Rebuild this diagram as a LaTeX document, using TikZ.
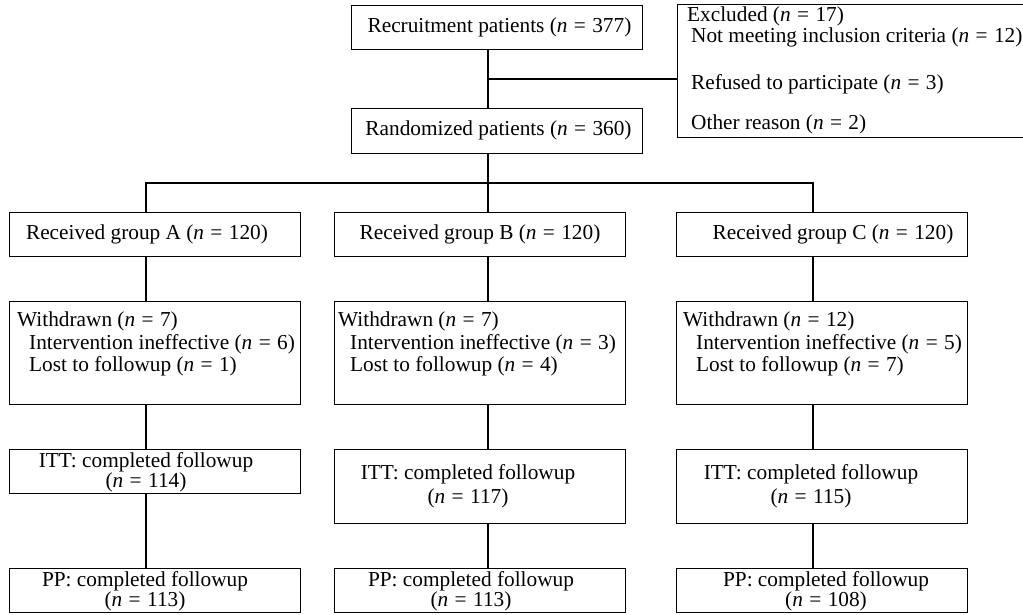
\documentclass[tikz,border=0pt]{standalone}
\usepackage{fontspec}
\setmainfont{Liberation Serif}
\newcommand{\eqn}[1]{(\textit{n}\hspace{0.3em}=\hspace{0.3em}#1)}
\begin{document}
\begin{tikzpicture}[x=1pt,y=-1pt,
  box/.style={draw, line width=1.2pt, inner sep=0pt, anchor=north west, minimum width=291pt},
  txt/.style={inner sep=0pt, font=\fontsize{21.3}{24}\selectfont},
  tight/.style={inner sep=0pt, align=center, font=\fontsize{21.3}{19}\selectfont},
  loose/.style={inner sep=0pt, align=center, font=\fontsize{21.3}{24}\selectfont},
  link/.style={line width=1.2pt}]
\useasboundingbox (0,0) rectangle (1023,615);
\clip (0,0) rectangle (1023,615);
% boxes
\node[box, minimum height=44pt] (rec) at (351,5) {};
\node[box, minimum height=45pt] (ran) at (351,108) {};
\node[box, minimum width=360pt, minimum height=133pt] (exc) at (677,4) {};
\node[box, minimum height=44pt] (ga) at (9,212) {};
\node[box, minimum height=44pt] (gb) at (334,212) {};
\node[box, minimum height=44pt] (gc) at (676,212) {};
\node[box, minimum height=103pt] (wa) at (9,301) {};
\node[box, minimum height=103pt] (wb) at (334,301) {};
\node[box, minimum height=103pt] (wc) at (676,301) {};
\node[box, minimum height=44pt] (ia) at (9,449) {};
\node[box, minimum height=74pt] (ib) at (334,449) {};
\node[box, minimum height=74pt] (ic) at (676,449) {};
\node[box, minimum height=44pt] (pa) at (9,568) {};
\node[box, minimum height=44pt] (pb) at (334,568) {};
\node[box, minimum height=44pt] (pc) at (676,568) {};
% texts
\node[txt] (trec) at (499.5,27) {Recruitment patients \eqn{377}};
\node[txt] (tran) at (498.5,130.5) {Randomized patients \eqn{360}};
\node[txt, anchor=base west] (te1) at (687,22) {Excluded \eqn{17}};
\node[txt, anchor=base west] (te2) at (691,43) {Not meeting inclusion criteria \eqn{12}};
\node[txt, anchor=base west] (te3) at (691,90) {Refused to participate \eqn{3}};
\node[txt, anchor=base west] (te4) at (691,130) {Other reason \eqn{2}};
\node[txt] (tga) at (147,234) {Received group A \eqn{120}};
\node[txt] (tgb) at (480,234) {Received group B \eqn{120}};
\node[txt] (tgc) at (833,234) {Received group C \eqn{120}};
\node[txt, anchor=base west] (twa1) at (17,326) {Withdrawn \eqn{7}};
\node[txt, anchor=base west] (twa2) at (29,349) {Intervention ineffective \eqn{6}};
\node[txt, anchor=base west] (twa3) at (29,371) {Lost to followup \eqn{1}};
\node[txt, anchor=base west] (twb1) at (338,326) {Withdrawn \eqn{7}};
\node[txt, anchor=base west] (twb2) at (350,349) {Intervention ineffective \eqn{3}};
\node[txt, anchor=base west] (twb3) at (350,371) {Lost to followup \eqn{4}};
\node[txt, anchor=base west] (twc1) at (683,326) {Withdrawn \eqn{12}};
\node[txt, anchor=base west] (twc2) at (696,349) {Intervention ineffective \eqn{5}};
\node[txt, anchor=base west] (twc3) at (696,371) {Lost to followup \eqn{7}};
\node[tight] (tia) at (146,472.5) {ITT: completed followup\\\eqn{114}};
\node[loose] (tib) at (468,486) {ITT: completed followup\\\eqn{117}};
\node[loose] (tic) at (811,486) {ITT: completed followup\\\eqn{115}};
\node[tight] (tpa) at (145,591.5) {PP: completed followup\\\eqn{113}};
\node[tight] (tpb) at (471,591.5) {PP: completed followup\\\eqn{113}};
\node[tight] (tpc) at (826,591.5) {PP: completed followup\\\eqn{108}};
% connector coordinates
\coordinate (xa) at (146,0);
\coordinate (xb) at (488,0);
\coordinate (xc) at (813,0);
\coordinate (j1) at (488,79);
\coordinate (j2) at (488,183);
% connectors
\draw[link] (rec.south -| xb) -- (ran.north -| xb);
\draw[link] (j1) -- (exc.west |- j1);
\draw[link] (ran.south -| xb) -- (j2);
\draw[link] (ga.north -| xa) |- (j2) -| (gc.north -| xc);
\draw[link] (j2) -- (gb.north -| xb);
\draw[link] (ga.south -| xa) -- (wa.north -| xa);
\draw[link] (gb.south -| xb) -- (wb.north -| xb);
\draw[link] (gc.south -| xc) -- (wc.north -| xc);
\draw[link] (wa.south -| xa) -- (ia.north -| xa);
\draw[link] (wb.south -| xb) -- (ib.north -| xb);
\draw[link] (wc.south -| xc) -- (ic.north -| xc);
\draw[link] (ia.south -| xa) -- (pa.north -| xa);
\draw[link] (ib.south -| xb) -- (pb.north -| xb);
\draw[link] (ic.south -| xc) -- (pc.north -| xc);
\end{tikzpicture}
\end{document}
